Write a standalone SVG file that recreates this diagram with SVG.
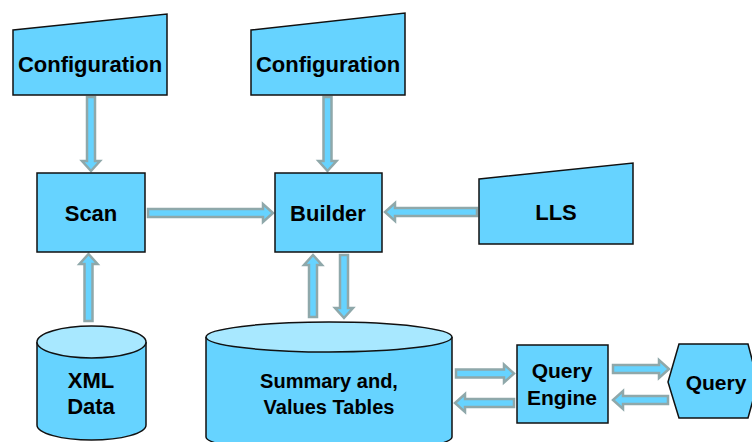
<svg xmlns="http://www.w3.org/2000/svg" width="752" height="442" viewBox="0 0 752 442">
<style>
.box{fill:#66D3FF;stroke:#111;stroke-width:1.5}
.top{fill:#A8E8FF;stroke:#111;stroke-width:1.5}
.arr{fill:#66D3FF;stroke:#8FA8AA;stroke-width:2.5;stroke-linejoin:miter}
text{font-family:"Liberation Sans",Arial,sans-serif;font-weight:bold;fill:#000;text-anchor:middle}
.t22{font-size:22px}
.t20{font-size:20px}
.t21{font-size:21px}
</style>
<rect width="752" height="442" fill="#fff"/>
<g id="connectors">
<!-- Config1 -> Scan -->
<polygon class="arr" points="87,97 95,97 95,161 100,161 91,171 82,161 87,161"/>
<!-- Config2 -> Builder -->
<polygon class="arr" points="323.5,97 331.5,97 331.5,161 336.5,161 327.5,171 318.5,161 323.5,161"/>
<!-- Scan -> Builder -->
<polygon class="arr" points="148,209 263,209 263,204 273,213 263,222 263,217 148,217"/>
<!-- LLS -> Builder -->
<polygon class="arr" points="477,208 395,208 395,203 385,212 395,221 395,216 477,216"/>
<!-- XML -> Scan -->
<polygon class="arr" points="84.5,321 92.5,321 92.5,264 97.5,264 88.5,254 79.5,264 84.5,264"/>
<!-- Summary -> Builder -->
<polygon class="arr" points="309,317 317,317 317,265 322,265 313,255 304,265 309,265"/>
<!-- Builder -> Summary -->
<polygon class="arr" points="340,255 348,255 348,308 353,308 344,318 335,308 340,308"/>
<!-- Summary -> Query Engine -->
<polygon class="arr" points="456,369.5 504,369.5 504,364.5 514,373.5 504,382.5 504,377.5 456,377.5"/>
<!-- Query Engine -> Summary -->
<polygon class="arr" points="514,399 465,399 465,394 455,403 465,412 465,407 514,407"/>
<!-- Query Engine -> Query -->
<polygon class="arr" points="613,365 659,365 659,360 669,369 659,378 659,373 613,373"/>
<!-- Query -> Query Engine -->
<polygon class="arr" points="668,396 623,396 623,391 613,400 623,409 623,404 668,404"/>
</g>
<g id="config1">
<polygon class="box" points="13,30 167,14 167,95 13,95"/>
<text class="t22" x="90" y="72">Configuration</text>
</g>
<g id="config2">
<polygon class="box" points="251,30 405,13 405,95 251,95"/>
<text class="t22" x="328" y="72">Configuration</text>
</g>
<g id="scan">
<rect class="box" x="37" y="173" width="108" height="79"/>
<text class="t22" x="91" y="221">Scan</text>
</g>
<g id="builder">
<rect class="box" x="275" y="173" width="107" height="79"/>
<text class="t22" x="328" y="221">Builder</text>
</g>
<g id="lls">
<polygon class="box" points="479,179 633,163 633,244 479,244"/>
<text class="t22" x="556" y="220">LLS</text>
</g>
<g id="xmldata">
<path class="box" d="M37,342 L37,425 A54.5,15 0 0 0 146,425 L146,342"/>
<ellipse class="top" cx="91.5" cy="342" rx="54.5" ry="16"/>
<text class="t22" x="91" y="388">XML</text>
<text class="t22" x="91" y="414">Data</text>
</g>
<g id="summary">
<path class="box" d="M206,337 L206,437 A123,15 0 0 0 452,437 L452,337"/>
<ellipse class="top" cx="329" cy="337" rx="123" ry="15"/>
<text class="t20" x="329" y="388">Summary and,</text>
<text class="t20" x="329" y="414">Values Tables</text>
</g>
<g id="queryengine">
<rect class="box" x="517" y="345" width="91" height="78"/>
<text class="t21" x="562" y="378">Query</text>
<text class="t21" x="562" y="405">Engine</text>
</g>
<g id="query">
<polygon class="box" points="668,382 679,344 748,344 758,382 748,418 679,418"/>
<text class="t21" x="716" y="390">Query</text>
</g>
</svg>
